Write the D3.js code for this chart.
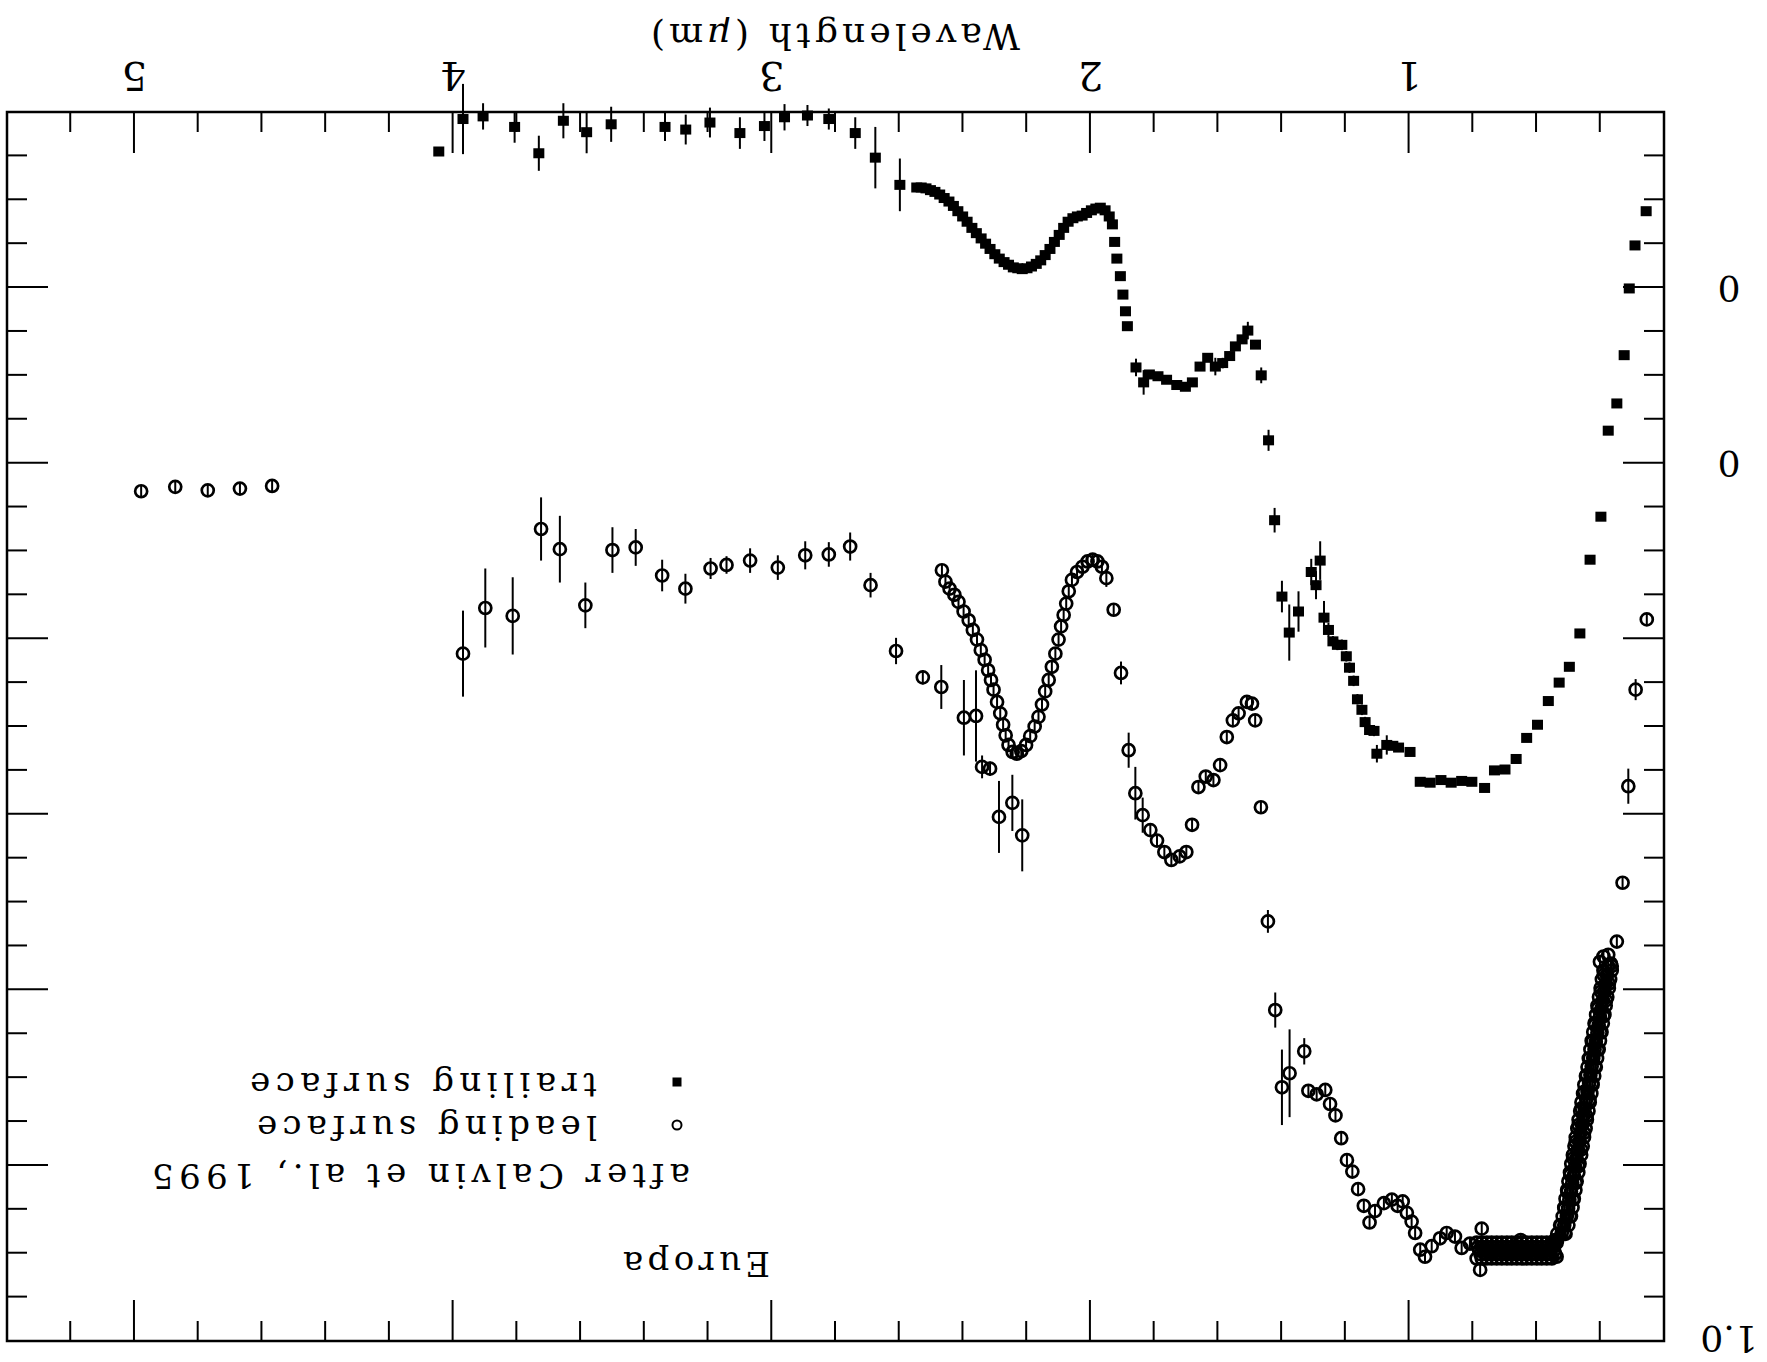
<!DOCTYPE html>
<html>
<head>
<meta charset="utf-8">
<script src="https://cdn.jsdelivr.net/npm/d3@7"></script>
<style>
body { margin: 0; background: #fff; }
text { font-family: "DejaVu Serif", serif; fill: #000; }
</style>
</head>
<body>
<div id="chart"></div>
<script>
var width = 1767,
	height = 1362;

// axis ticks and labels
var xMajor = [1, 2, 3, 4, 5];
var yMajor = [-0.2, 0, 0.2, 0.4, 0.6, 0.8];
var yLabels = [[-0.2, "0"], [0, "0"], [1.0, "1.0"]];

// trailing surface: [wavelength um, reflectance (offset), error]
var trailing = [
	[4.045,-0.355,0],[3.969,-0.392,0.04],[3.906,-0.395,0.015],[3.807,-0.383,0.018],[3.731,-0.353,0.02],
	[3.654,-0.390,0.02],[3.581,-0.377,0.024],[3.504,-0.386,0.02],[3.335,-0.383,0.016],[3.270,-0.380,0.017],
	[3.194,-0.388,0.017],[3.100,-0.376,0.018],[3.023,-0.384,0.017],[2.960,-0.394,0.015],[2.888,-0.396,0.012],
	[2.821,-0.392,0.012],[2.738,-0.376,0.018],[2.675,-0.348,0.035],[2.598,-0.317,0.03],
	[2.545,-0.314,0],[2.531,-0.314,0],[2.516,-0.313,0],[2.502,-0.311,0],[2.488,-0.309,0],[2.473,-0.306,0],
	[2.459,-0.302,0],[2.444,-0.298,0],[2.430,-0.293,0],[2.416,-0.287,0],[2.401,-0.281,0],[2.387,-0.275,0],
	[2.372,-0.268,0],[2.358,-0.262,0],[2.343,-0.256,0],[2.329,-0.250,0],[2.315,-0.244,0],[2.300,-0.238,0],
	[2.286,-0.233,0],[2.271,-0.229,0],[2.257,-0.226,0],[2.242,-0.223,0],[2.228,-0.222,0],[2.214,-0.221,0],
	[2.199,-0.222,0],[2.185,-0.224,0],[2.170,-0.227,0],[2.156,-0.231,0],[2.142,-0.237,0],[2.127,-0.244,0],
	[2.113,-0.252,0],[2.098,-0.260,0],[2.084,-0.268,0],[2.070,-0.275,0],[2.055,-0.279,0],[2.041,-0.281,0],
	[2.026,-0.282,0],[2.012,-0.285,0],[1.997,-0.288,0],[1.983,-0.290,0],[1.969,-0.291,0],[1.954,-0.288,0],
	[1.941,-0.281,0],[1.931,-0.272,0],[1.924,-0.252,0],[1.917,-0.233,0],[1.906,-0.213,0],[1.898,-0.192,0],
	[1.890,-0.173,0],[1.884,-0.156,0],[1.857,-0.109,0.01],[1.833,-0.092,0.014],[1.815,-0.101,0.005],
	[1.788,-0.099,0.004],[1.761,-0.095,0.004],[1.729,-0.089,0.004],[1.702,-0.087,0.004],[1.680,-0.092,0.004],
	[1.656,-0.110,0.004],[1.632,-0.120,0.004],[1.608,-0.110,0.01],[1.585,-0.114,0.006],[1.563,-0.122,0.004],
	[1.545,-0.133,0.004],[1.524,-0.141,0.004],[1.506,-0.151,0.01],[1.482,-0.135,0.005],[1.464,-0.100,0.009],
	[1.441,-0.026,0.012],[1.422,0.065,0.014],[1.399,0.152,0.018],[1.376,0.193,0.032],[1.347,0.169,0.023],
	[1.307,0.124,0.015],[1.292,0.139,0.016],[1.279,0.111,0.022],[1.267,0.176,0.019],[1.253,0.190,0.008],
	[1.239,0.203,0.006],[1.225,0.207,0.006],[1.211,0.207,0.006],[1.197,0.220,0.006],[1.187,0.233,0.006],
	[1.174,0.248,0.006],[1.162,0.269,0.006],[1.148,0.281,0.006],[1.138,0.295,0.006],[1.124,0.304,0.006],
	[1.110,0.305,0.006],[1.101,0.331,0.01],[1.070,0.321,0.011],[1.051,0.322,0.004],[1.033,0.324,0.004],
	[0.997,0.329,0],[0.965,0.363,0],[0.934,0.364,0],[0.900,0.361,0],[0.868,0.364,0],[0.835,0.362,0],
	[0.803,0.363,0],[0.763,0.370,0],[0.732,0.350,0],[0.699,0.349,0],[0.664,0.337,0],[0.631,0.313,0],
	[0.597,0.298,0],[0.563,0.271,0],[0.529,0.250,0],[0.497,0.232,0],[0.464,0.194,0],[0.432,0.110,0],
	[0.398,0.061,0],[0.375,-0.037,0],[0.348,-0.068,0],[0.325,-0.123,0],[0.309,-0.199,0],[0.291,-0.248,0],
	[0.256,-0.287,0]
];

// leading surface: [wavelength um, reflectance, error]
var leading = [
	[4.979,0.032,0.007],[4.872,0.027,0.007],[4.770,0.031,0.007],[4.669,0.029,0.007],[4.568,0.026,0.007],
	[3.969,0.217,0.049],[3.899,0.165,0.045],[3.813,0.174,0.044],[3.724,0.075,0.036],[3.665,0.098,0.038],
	[3.585,0.162,0.026],[3.500,0.099,0.026],[3.427,0.096,0.021],[3.344,0.128,0.018],[3.271,0.143,0.017],
	[3.192,0.120,0.012],[3.142,0.116,0.010],[3.068,0.111,0.014],[2.981,0.119,0.014],[2.895,0.105,0.016],
	[2.821,0.104,0.014],[2.754,0.095,0.016],[2.690,0.139,0.014],[2.610,0.214,0.015],[2.526,0.244,0.008],
	[2.468,0.255,0.025],[2.397,0.290,0.043],[2.359,0.288,0.052],[2.340,0.346,0.013],[2.315,0.348,0.008],
	[2.287,0.403,0.041],[2.245,0.387,0.032],[2.214,0.424,0.041],
	[2.466,0.122,0.006],[2.455,0.135,0.006],[2.442,0.143,0.006],[2.427,0.150,0.006],[2.414,0.158,0.006],
	[2.398,0.169,0.006],[2.382,0.179,0.006],[2.369,0.190,0.006],[2.356,0.201,0.006],[2.344,0.213,0.006],
	[2.332,0.224,0.006],[2.321,0.236,0.006],[2.312,0.247,0.006],[2.304,0.258,0.006],[2.293,0.272,0.006],
	[2.283,0.285,0.006],[2.274,0.298,0.006],[2.266,0.310,0.006],[2.257,0.321,0.006],[2.244,0.329,0.006],
	[2.231,0.331,0.006],[2.217,0.328,0.006],[2.202,0.321,0.006],[2.189,0.311,0.006],[2.175,0.300,0.006],
	[2.163,0.289,0.006],[2.152,0.275,0.006],[2.142,0.260,0.006],[2.131,0.247,0.006],[2.121,0.232,0.006],
	[2.110,0.217,0.006],[2.100,0.201,0.006],[2.092,0.186,0.006],[2.084,0.173,0.006],[2.076,0.160,0.006],
	[2.068,0.146,0.006],[2.058,0.133,0.006],[2.042,0.124,0.006],[2.025,0.118,0.006],[2.009,0.112,0.006],
	[1.993,0.110,0.006],[1.978,0.112,0.006],[1.964,0.118,0.006],[1.950,0.131,0.01],
	[1.927,0.167,0.007],[1.904,0.239,0.013],[1.880,0.327,0.02],[1.859,0.376,0.03],[1.836,0.401,0.02],
	[1.812,0.418,0.007],[1.791,0.430,0.007],[1.768,0.443,0.007],[1.746,0.452,0.007],[1.720,0.448,0.007],
	[1.699,0.443,0.007],[1.681,0.412,0.007],[1.661,0.369,0.007],[1.638,0.357,0.007],[1.614,0.361,0.007],
	[1.593,0.344,0.007],[1.572,0.312,0.007],[1.553,0.293,0.007],[1.535,0.285,0.007],[1.509,0.272,0.007],
	[1.493,0.274,0.007],[1.483,0.293,0.007],[1.465,0.392,0.007],[1.443,0.522,0.013],[1.420,0.623,0.02],
	[1.399,0.711,0.043],[1.375,0.695,0.05],[1.329,0.670,0.015],[1.316,0.715,0.006],[1.290,0.719,0.006],
	[1.263,0.714,0.006],[1.248,0.730,0.006],[1.231,0.743,0.006],[1.213,0.769,0.006],[1.195,0.794,0.006],
	[1.178,0.807,0.006],[1.160,0.827,0.006],[1.142,0.846,0.006],[1.124,0.865,0.006],[1.107,0.852,0.006],
	[1.079,0.843,0.006],[1.054,0.839,0.006],[1.036,0.846,0.006],[1.020,0.841,0.006],[1.007,0.854,0.006],
	[0.992,0.864,0.006],[0.981,0.877,0.006],[0.965,0.896,0.006],[0.950,0.904,0.006],[0.929,0.892,0.006],
	[0.903,0.883,0.006],[0.882,0.877,0.006],[0.856,0.881,0.006],[0.835,0.894,0.006],[0.809,0.889,0.006],
	// flat plateau 0.54-0.79 um, a dense block of points
	[0.788,0.906,0.006],[0.772,0.888,0.006],[0.756,0.906,0.006],[0.741,0.888,0.006],[0.725,0.906,0.006],
	[0.709,0.888,0.006],[0.693,0.906,0.006],[0.678,0.888,0.006],[0.662,0.906,0.006],[0.646,0.888,0.006],
	[0.631,0.906,0.006],[0.615,0.888,0.006],[0.599,0.906,0.006],[0.584,0.888,0.006],[0.568,0.906,0.006],
	[0.552,0.888,0.006],[0.537,0.904,0.006],
	[0.788,0.888,0.006],[0.772,0.906,0.006],[0.756,0.888,0.006],[0.741,0.906,0.006],[0.725,0.888,0.006],
	[0.709,0.906,0.006],[0.693,0.888,0.006],[0.678,0.906,0.006],[0.662,0.888,0.006],[0.646,0.906,0.006],
	[0.631,0.888,0.006],[0.615,0.906,0.006],[0.599,0.888,0.006],[0.584,0.906,0.006],[0.568,0.888,0.006],
	[0.552,0.906,0.006],[0.537,0.888,0.006],
	[0.780,0.897,0.006],[0.764,0.897,0.006],[0.748,0.897,0.006],[0.733,0.897,0.006],[0.717,0.897,0.006],
	[0.701,0.897,0.006],[0.686,0.897,0.006],[0.670,0.897,0.006],[0.654,0.897,0.006],[0.639,0.897,0.006],
	[0.623,0.897,0.006],[0.607,0.897,0.006],[0.592,0.897,0.006],[0.576,0.897,0.006],[0.560,0.897,0.006],
	[0.545,0.897,0.006],
	[0.784,0.893,0.006],[0.768,0.893,0.006],[0.752,0.893,0.006],[0.737,0.893,0.006],[0.721,0.893,0.006],
	[0.705,0.893,0.006],[0.690,0.893,0.006],[0.674,0.893,0.006],[0.658,0.893,0.006],[0.643,0.893,0.006],
	[0.627,0.893,0.006],[0.611,0.893,0.006],[0.596,0.893,0.006],[0.580,0.893,0.006],[0.564,0.893,0.006],
	[0.549,0.893,0.006],
	[0.776,0.901,0.006],[0.760,0.901,0.006],[0.745,0.901,0.006],[0.729,0.901,0.006],[0.713,0.901,0.006],
	[0.697,0.901,0.006],[0.682,0.901,0.006],[0.666,0.901,0.006],[0.650,0.901,0.006],[0.635,0.901,0.006],
	[0.619,0.901,0.006],[0.603,0.901,0.006],[0.588,0.901,0.006],[0.572,0.901,0.006],[0.556,0.901,0.006],
	[0.541,0.901,0.006],
	[0.650,0.885,0.006],[0.772,0.872,0.006],[0.777,0.919,0.006],
	// steep rise 0.36-0.55 um
	[0.542,0.890,0.006],[0.542,0.885,0.006],[0.511,0.877,0.006],[0.523,0.868,0.006],[0.495,0.858,0.006],
	[0.512,0.849,0.006],[0.486,0.839,0.006],[0.503,0.830,0.006],[0.477,0.820,0.006],[0.494,0.811,0.006],
	[0.469,0.801,0.006],[0.485,0.792,0.006],[0.460,0.782,0.006],[0.477,0.773,0.006],[0.451,0.763,0.006],
	[0.468,0.754,0.006],[0.443,0.744,0.006],[0.459,0.735,0.006],[0.434,0.725,0.006],[0.450,0.716,0.006],
	[0.425,0.706,0.006],[0.442,0.697,0.006],[0.416,0.687,0.006],[0.433,0.678,0.006],[0.408,0.668,0.006],
	[0.424,0.659,0.006],[0.399,0.649,0.006],[0.416,0.640,0.006],[0.390,0.630,0.006],[0.407,0.621,0.006],
	[0.382,0.612,0.006],[0.398,0.602,0.006],[0.373,0.593,0.006],[0.389,0.583,0.006],[0.364,0.573,0.006],
	[0.375,0.573,0.006],[0.379,0.583,0.006],[0.383,0.593,0.006],[0.388,0.602,0.006],[0.392,0.612,0.006],
	[0.396,0.621,0.006],[0.401,0.630,0.006],[0.405,0.640,0.006],[0.409,0.649,0.006],[0.414,0.659,0.006],
	[0.418,0.668,0.006],[0.422,0.678,0.006],[0.427,0.687,0.006],[0.431,0.697,0.006],[0.435,0.706,0.006],
	[0.440,0.716,0.006],[0.444,0.725,0.006],[0.449,0.735,0.006],[0.453,0.744,0.006],[0.457,0.754,0.006],
	[0.462,0.763,0.006],[0.466,0.773,0.006],[0.470,0.782,0.006],[0.475,0.792,0.006],[0.479,0.801,0.006],
	[0.483,0.811,0.006],[0.488,0.820,0.006],[0.492,0.830,0.006],[0.497,0.839,0.006],[0.501,0.849,0.006],
	[0.505,0.858,0.006],[0.513,0.868,0.006],[0.521,0.877,0.006],[0.535,0.885,0.006],[0.550,0.890,0.006],
	[0.364,0.578,0.006],[0.369,0.588,0.006],[0.373,0.598,0.006],[0.378,0.608,0.006],[0.383,0.618,0.006],
	[0.387,0.628,0.006],[0.392,0.638,0.006],[0.396,0.648,0.006],[0.401,0.658,0.006],[0.405,0.668,0.006],
	[0.410,0.678,0.006],[0.414,0.688,0.006],[0.419,0.698,0.006],[0.424,0.708,0.006],[0.428,0.718,0.006],
	[0.433,0.728,0.006],[0.437,0.738,0.006],[0.442,0.748,0.006],[0.446,0.758,0.006],[0.451,0.768,0.006],
	[0.455,0.778,0.006],[0.460,0.788,0.006],[0.465,0.798,0.006],[0.469,0.808,0.006],[0.474,0.818,0.006],
	[0.478,0.828,0.006],[0.483,0.838,0.006],[0.487,0.848,0.006],[0.492,0.858,0.006],[0.500,0.868,0.006],
	[0.509,0.878,0.006],
	[0.390,0.578,0.006],[0.395,0.588,0.006],[0.399,0.598,0.006],[0.404,0.608,0.006],[0.409,0.618,0.006],
	[0.413,0.628,0.006],[0.418,0.638,0.006],[0.422,0.648,0.006],[0.427,0.658,0.006],[0.431,0.668,0.006],
	[0.436,0.678,0.006],[0.440,0.688,0.006],[0.445,0.698,0.006],[0.450,0.708,0.006],[0.454,0.718,0.006],
	[0.459,0.728,0.006],[0.463,0.738,0.006],[0.468,0.748,0.006],[0.472,0.758,0.006],[0.477,0.768,0.006],
	[0.481,0.778,0.006],[0.486,0.788,0.006],[0.491,0.798,0.006],[0.495,0.808,0.006],[0.500,0.818,0.006],
	[0.504,0.828,0.006],[0.509,0.838,0.006],[0.513,0.848,0.006],[0.518,0.858,0.006],[0.526,0.868,0.006],
	[0.535,0.878,0.006],
	[0.367,0.570,0.006],[0.401,0.568,0.006],[0.375,0.560,0.006],[0.390,0.562,0.006],
	[0.348,0.545,0.006],[0.330,0.478,0.006],[0.312,0.368,0.02],[0.289,0.258,0.012],[0.254,0.178,0.006]
];

// the scan is printed upside down: draw the chart normally, then turn it round
var frame = {left: 103, right: 1760, top: 21, bottom: 1250};

var x = d3.scaleLinear().domain([0.2, 5.4]).range([frame.left, frame.right]);
var y = d3.scaleLinear().domain([-0.4, 1.0]).range([frame.bottom, frame.top]);

var xMinor = d3.range(2, 27).map(function(k){ return k / 5; })
	.filter(function(v){ return Math.abs(v - Math.round(v)) > 0.01; });
var yMinor = d3.range(-7, 20).map(function(k){ return k / 20; })
	.filter(function(v){ return Math.abs(v * 5 - Math.round(v * 5)) > 0.01; });

var svg = d3.select("#chart")
	.append("svg")
	.attr("width", width)
	.attr("height", height);

var g = svg.append("g")
	.attr("transform", "rotate(180 " + width / 2 + " " + height / 2 + ")");

//frame
g.append("rect")
	.attr("x", frame.left)
	.attr("y", frame.top)
	.attr("width", frame.right - frame.left)
	.attr("height", frame.bottom - frame.top)
	.attr("fill", "none")
	.attr("stroke", "#000")
	.attr("stroke-width", 2.5);

//ticks, all pointing into the frame
function ticks(axis, tr) {
	var a = g.append("g").attr("transform", tr).call(axis);
	a.select(".domain").remove();
	a.selectAll("line").attr("stroke", "#000").attr("stroke-width", 2);
}
var minorLen = 20, majorLen = 41;
ticks(d3.axisBottom(x).tickValues(xMinor).tickSize(-minorLen).tickSizeOuter(0).tickFormat(""), "translate(0," + frame.bottom + ")");
ticks(d3.axisBottom(x).tickValues(xMajor).tickSize(-majorLen).tickSizeOuter(0).tickFormat(""), "translate(0," + frame.bottom + ")");
ticks(d3.axisTop(x).tickValues(xMinor).tickSize(-minorLen).tickSizeOuter(0).tickFormat(""), "translate(0," + frame.top + ")");
ticks(d3.axisTop(x).tickValues(xMajor).tickSize(-majorLen).tickSizeOuter(0).tickFormat(""), "translate(0," + frame.top + ")");
ticks(d3.axisLeft(y).tickValues(yMinor).tickSize(-minorLen).tickSizeOuter(0).tickFormat(""), "translate(" + frame.left + ",0)");
ticks(d3.axisLeft(y).tickValues(yMajor).tickSize(-majorLen).tickSizeOuter(0).tickFormat(""), "translate(" + frame.left + ",0)");
ticks(d3.axisRight(y).tickValues(yMinor).tickSize(-minorLen).tickSizeOuter(0).tickFormat(""), "translate(" + frame.right + ",0)");
ticks(d3.axisRight(y).tickValues(yMajor).tickSize(-majorLen).tickSizeOuter(0).tickFormat(""), "translate(" + frame.right + ",0)");

//tick labels
g.selectAll(".xlab")
	.data(xMajor)
	.enter()
	.append("text")
	.attr("x", function(d){ return x(d); })
	.attr("y", frame.bottom + 50)
	.attr("text-anchor", "middle")
	.attr("font-size", 40)
	.text(function(d){ return d; });

g.selectAll(".ylab")
	.data(yLabels)
	.enter()
	.append("text")
	.attr("x", 38)
	.attr("y", function(d){ return Math.max(y(d[0]) + 12, 36); })
	.attr("text-anchor", "middle")
	.attr("font-size", 36)
	.text(function(d){ return d[1]; });

var title = g.append("text")
	.attr("x", 747)
	.attr("y", 1338)
	.attr("font-size", 36)
	.attr("textLength", 369)
	.attr("lengthAdjust", "spacing");
title.append("tspan").text("Wavelength  (");
title.append("tspan").attr("font-style", "italic").text("\u03bc");
title.append("tspan").text("m)");

//error bars
var circR = 6;
g.append("g").selectAll("line")
	.data(trailing.filter(function(d){ return d[2] > 0; }))
	.enter()
	.append("line")
	.attr("x1", function(d){ return x(d[0]); })
	.attr("x2", function(d){ return x(d[0]); })
	.attr("y1", function(d){ return y(d[1] - d[2]); })
	.attr("y2", function(d){ return y(d[1] + d[2]); })
	.attr("stroke", "#000")
	.attr("stroke-width", 2);

g.append("g").selectAll("line")
	.data(leading)
	.enter()
	.append("line")
	.attr("x1", function(d){ return x(d[0]); })
	.attr("x2", function(d){ return x(d[0]); })
	.attr("y1", function(d){ return Math.max(y(d[1] - d[2]), y(d[1]) + circR); })
	.attr("y2", function(d){ return Math.min(y(d[1] + d[2]), y(d[1]) - circR); })
	.attr("stroke", "#000")
	.attr("stroke-width", 2);

//points
g.append("g").selectAll("rect")
	.data(trailing)
	.enter()
	.append("rect")
	.attr("x", function(d){ return x(d[0]) - 5.5; })
	.attr("y", function(d){ return y(d[1]) - 5; })
	.attr("width", 11)
	.attr("height", 10)
	.attr("fill", "#000");

g.append("g").selectAll("circle")
	.data(leading)
	.enter()
	.append("circle")
	.attr("cx", function(d){ return x(d[0]); })
	.attr("cy", function(d){ return y(d[1]); })
	.attr("r", circR)
	.attr("fill", "none")
	.attr("stroke", "#000")
	.attr("stroke-width", 2.7);

//legend
g.append("text").attr("x", 997).attr("y", 110).attr("font-size", 34)
	.attr("textLength", 147).attr("lengthAdjust", "spacing").text("Europa");
g.append("text").attr("x", 1077).attr("y", 198).attr("font-size", 34)
	.attr("textLength", 538).attr("lengthAdjust", "spacing").text("after Calvin et al., 1995");
g.append("circle").attr("cx", 1090).attr("cy", 237).attr("r", 4.5)
	.attr("fill", "none").attr("stroke", "#000").attr("stroke-width", 2);
g.append("text").attr("x", 1170).attr("y", 246).attr("font-size", 34)
	.attr("textLength", 340).attr("lengthAdjust", "spacing").text("leading surface");
g.append("rect").attr("x", 1085.5).attr("y", 275.5).attr("width", 9).attr("height", 9).attr("fill", "#000");
g.append("text").attr("x", 1170).attr("y", 289).attr("font-size", 34)
	.attr("textLength", 347).attr("lengthAdjust", "spacing").text("trailing surface");
</script>
</body>
</html>
